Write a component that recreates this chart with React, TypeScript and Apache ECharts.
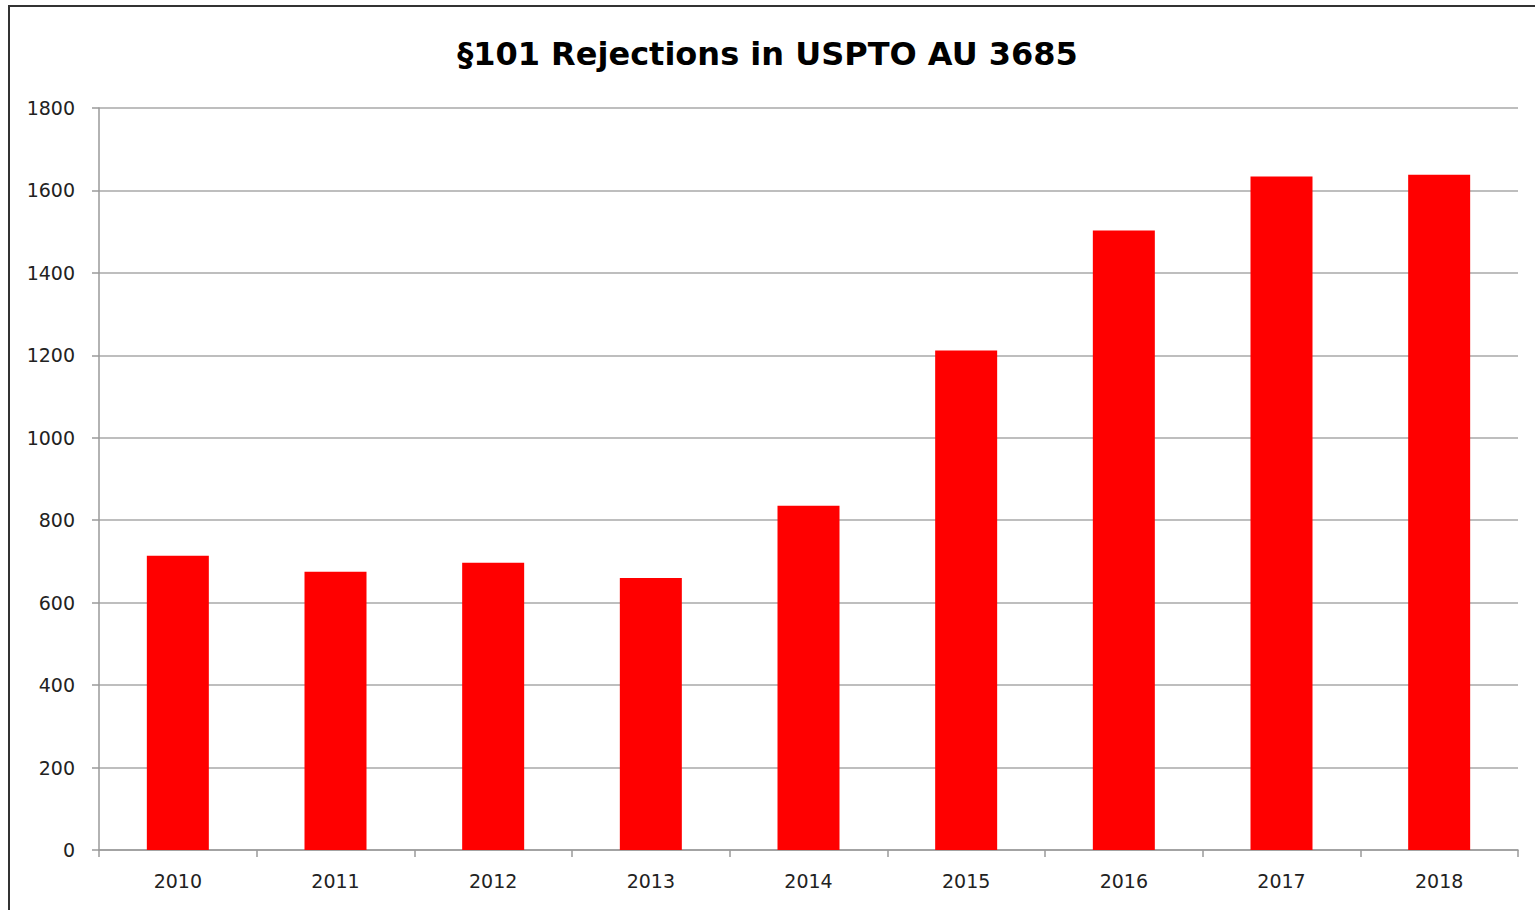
import React, { useEffect, useRef } from "react";
import * as echarts from "echarts";

const years = ["2010", "2011", "2012", "2013", "2014", "2015", "2016", "2017", "2018"];
const rejections = [714, 675, 697, 660, 835, 1212, 1503, 1634, 1638];
const yTicks = { min: 0, max: 1800, interval: 200 };
const title = "§101 Rejections in USPTO AU 3685";

export default function App() {
  const ref = useRef<HTMLDivElement>(null);
  useEffect(() => {
    if (!ref.current) return;
    const chart = echarts.init(ref.current, null, { renderer: "svg" });
    chart.setOption({
      animation: false,
      backgroundColor: "#ffffff",
      title: {
        text: title,
        left: "center",
        top: 33,
        textStyle: { fontFamily: "DejaVu Sans", fontWeight: "bold", fontSize: 32, color: "#000" },
      },
      graphic: [
        {
          type: "rect",
          shape: { x: 9, y: 6, width: 1560, height: 940 },
          style: { fill: "none", stroke: "#333", lineWidth: 2 },
          silent: true,
        },
      ],
      grid: { left: 99, right: 17, top: 108, bottom: 60, containLabel: false },
      xAxis: {
        type: "category",
        data: years,
        axisLine: { show: true, lineStyle: { color: "#9a9a9a", width: 1.5 } },
        axisTick: { show: true, length: 7, lineStyle: { color: "#9a9a9a", width: 1.5 } },
        axisLabel: { margin: 21, fontFamily: "DejaVu Sans", fontSize: 19, color: "#222" },
      },
      yAxis: {
        type: "value",
        min: yTicks.min,
        max: yTicks.max,
        interval: yTicks.interval,
        axisLine: { show: true, lineStyle: { color: "#9a9a9a", width: 1.5 } },
        axisTick: { show: true, length: 7, lineStyle: { color: "#9a9a9a", width: 1.5 } },
        axisLabel: {
          margin: 24,
          fontFamily: "DejaVu Sans",
          fontSize: 19,
          color: "#222",
          formatter: (v: number) => String(v),
        },
        splitLine: { show: true, lineStyle: { color: "#a8a8a8", width: 1.5 } },
      },
      series: [
        {
          type: "bar",
          data: rejections,
          barWidth: 62,
          itemStyle: { color: "#ff0000" },
        },
      ],
    });
    return () => chart.dispose();
  }, []);
  return (
    <div
      ref={ref}
      style={{ position: "absolute", left: 0, top: 0, width: 1535, height: 910 }}
    />
  );
}
